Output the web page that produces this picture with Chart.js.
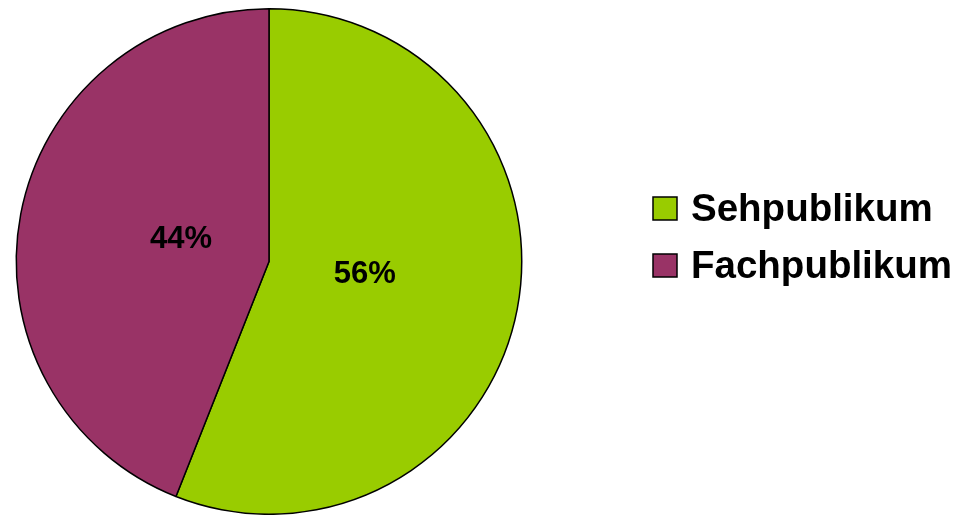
<!DOCTYPE html>
<html>
<head>
<meta charset="utf-8">
<script src="https://cdn.jsdelivr.net/npm/chart.js@4"></script>
<style>
  html, body { margin: 0; padding: 0; background: #fff; }
  #wrap { width: 956px; height: 515px; }
</style>
</head>
<body>
<div id="wrap"><canvas id="pie"></canvas></div>
<script>
// Daten
const labels = ['Sehpublikum', 'Fachpublikum'];
const values = [56, 44];
const colors = ['#99CC00', '#993366'];

const FONT = '"Liberation Sans", Arial, sans-serif';

// Prozentwerte in die Segmente schreiben
const sliceLabels = {
    id: 'sliceLabels',
    afterDatasetsDraw(chart) {
        const ctx = chart.ctx;
        const meta = chart.getDatasetMeta(0);
        const total = values.reduce((a, b) => a + b, 0);
        ctx.save();
        ctx.font = 'bold 31px ' + FONT;
        ctx.fillStyle = '#000';
        ctx.textAlign = 'center';
        ctx.textBaseline = 'middle';
        meta.data.forEach((arc, i) => {
            const mid = (arc.startAngle + arc.endAngle) / 2;
            const r = arc.outerRadius * 0.37;
            const x = arc.x + Math.cos(mid) * r + 4;
            const y = arc.y + Math.sin(mid) * r - 5;
            ctx.fillText(Math.round(values[i] / total * 100) + '%', x, y);
        });
        ctx.restore();
    }
};

// Legende rechts
const sideLegend = {
    id: 'sideLegend',
    afterDraw(chart) {
        const ctx = chart.ctx;
        ctx.save();
        ctx.font = 'bold 38.5px ' + FONT;
        ctx.textBaseline = 'middle';
        labels.forEach((name, i) => {
            const y = 197 + i * 57;
            ctx.fillStyle = colors[i];
            ctx.fillRect(653, y, 24, 23);
            ctx.strokeStyle = '#000';
            ctx.lineWidth = 1.5;
            ctx.strokeRect(653, y, 24, 23);
            ctx.fillStyle = '#000';
            ctx.fillText(name, 691, y + 13);
        });
        ctx.restore();
    }
};

new Chart(document.getElementById('pie'), {
    type: 'pie',
    data: {
        labels: labels,
        datasets: [{
            data: values,
            backgroundColor: colors,
            borderColor: '#000',
            borderWidth: 1.5
        }]
    },
    options: {
        responsive: true,
        maintainAspectRatio: false,
        animation: false,
        layout: {
            padding: { left: 13, right: 431, top: 8, bottom: -2 }
        },
        plugins: {
            legend: { display: false },
            tooltip: { enabled: false }
        }
    },
    plugins: [sliceLabels, sideLegend]
});
</script>
</body>
</html>
